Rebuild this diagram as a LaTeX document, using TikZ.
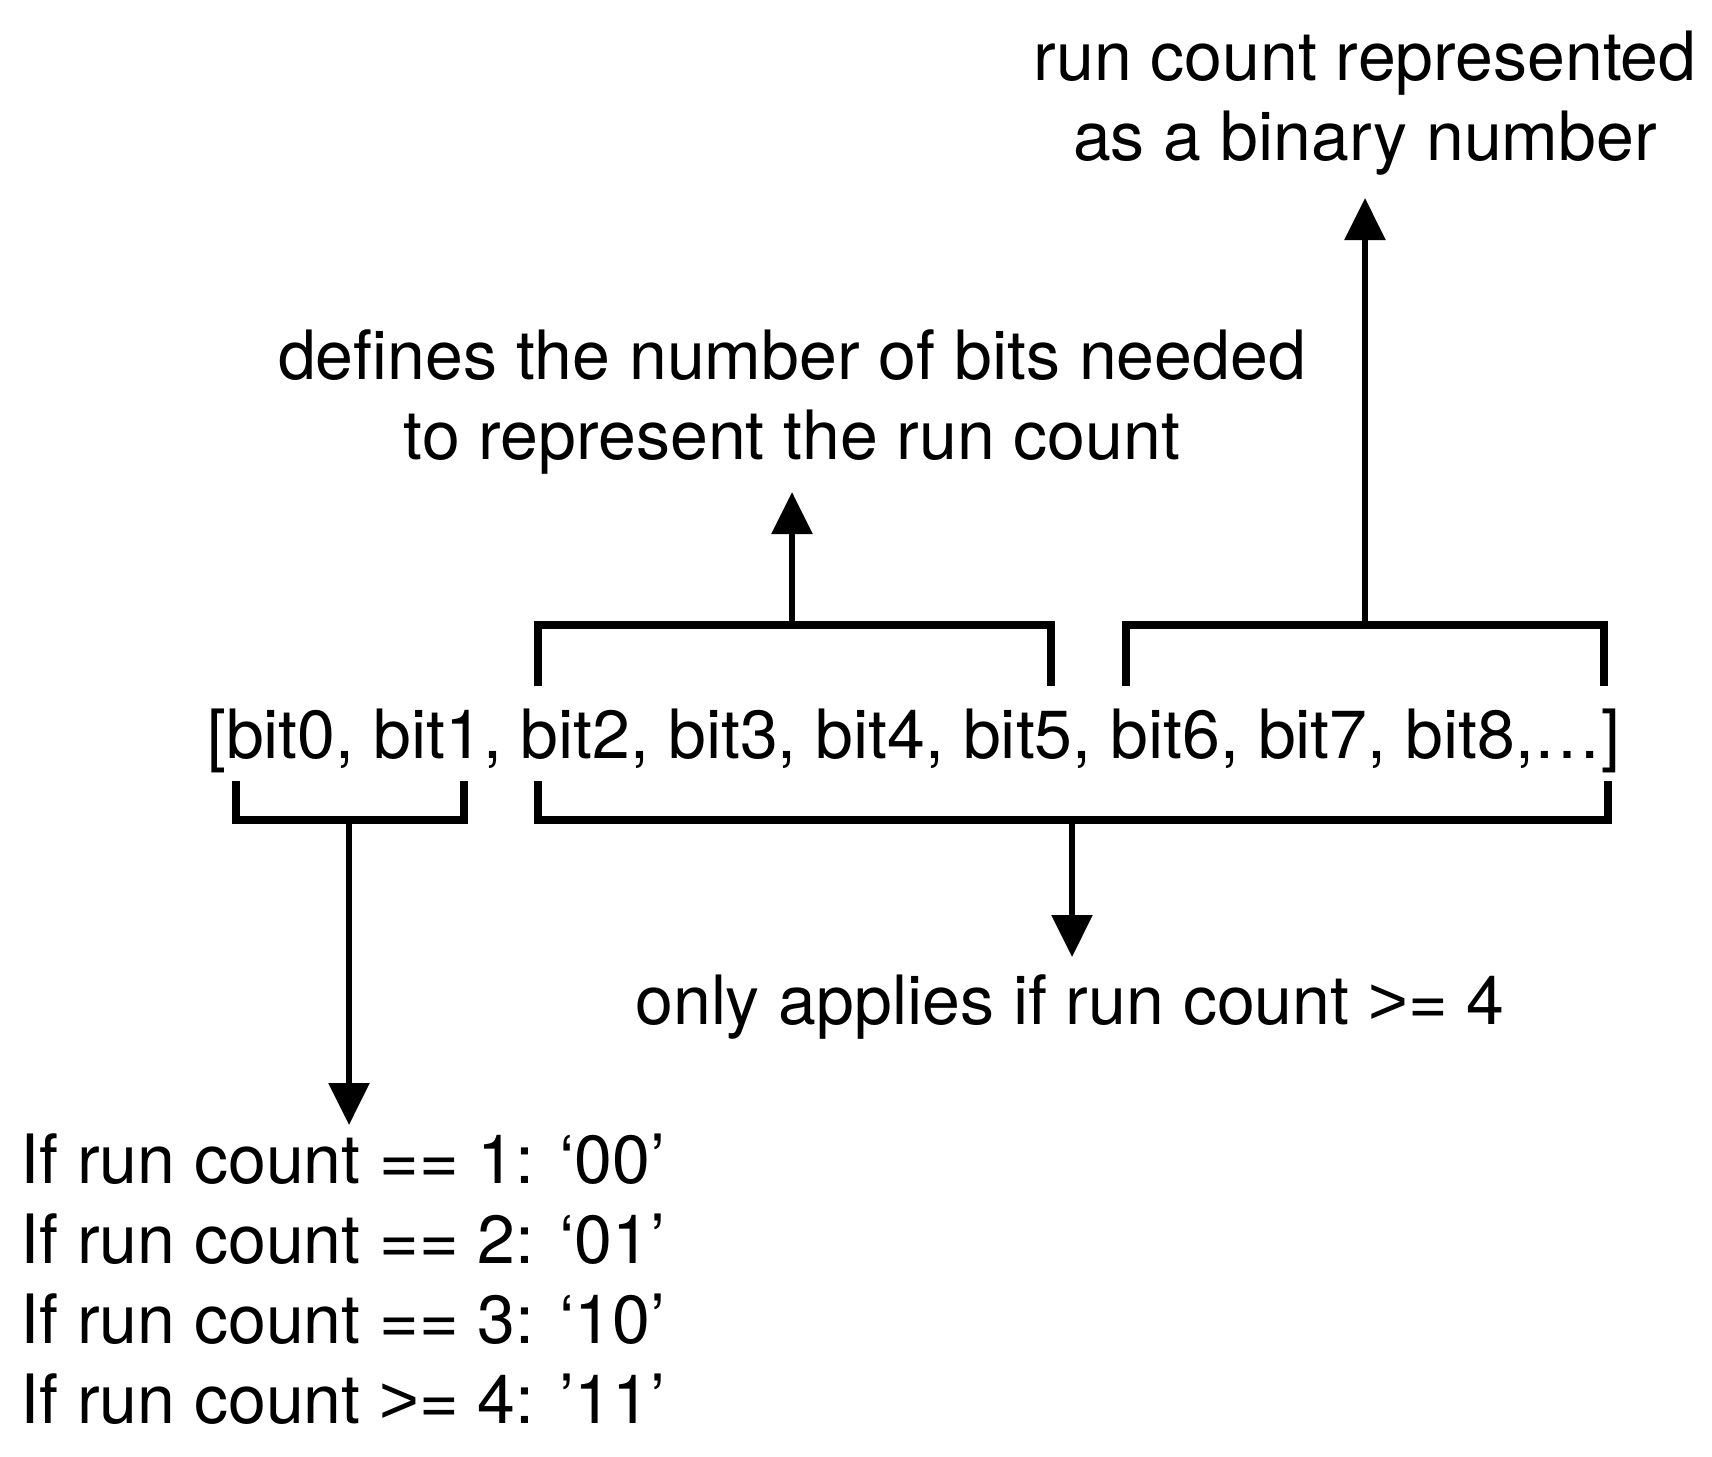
\documentclass[tikz,border=0pt]{standalone}
\usepackage{fontspec}
\setmainfont{TeX Gyre Heros}
\newfontfamily\gtfont{Liberation Sans}
\newcommand{\gtsign}{{\gtfont >}}
\usetikzlibrary{arrows.meta}

\begin{document}
\begin{tikzpicture}[x=0.5pt, y=-0.5pt,
      txt/.style={font=\fontsize{34}{40}\selectfont, inner sep=0pt},
      brace/.style={line width=4pt},
      arr/.style={line width=3pt, -{Triangle[width=20pt,length=21pt]}}]
    \useasboundingbox (0,0) rectangle (1712,1456);
    % the bit list
    \node[txt] (bits) at (914,741) {[bit0, bit1, bit2, bit3, bit4, bit5, bit6, bit7, bit8,…]};
    % labels
    \node[txt, align=center] (defs) at (792,402) {defines the number of bits needed\\to represent the run count};
    \node[txt, align=center] (bin) at (1365,103) {run count represented\\as a binary number};
    \node[txt] (only) at (1070,1007) {only applies if run count \gtsign= 4};
    \node[txt, align=left, anchor=west] (cases) at (20,1279) {If run count == 1: ‘00’\\If run count == 2: ‘01’\\If run count == 3: ‘10’\\If run count \gtsign= 4: ’11’};
    % brackets
    \draw[brace] (538,686) -- (538,625) -- (1051,625) -- (1051,686);
    \draw[brace] (1126,686) -- (1126,625) -- (1604,625) -- (1604,686);
    \draw[brace] (236,781) -- (236,820) -- (464,820) -- (464,781);
    \draw[brace] (538,781) -- (538,820) -- (1608,820) -- (1608,781);
    \coordinate (topa) at (792,625);
    \coordinate (topb) at (1365,625);
    \coordinate (bota) at (349,820);
    \coordinate (botb) at (1072,820);
    % arrow tips
    \coordinate (defs-in) at (792,492);
    \coordinate (bin-in) at (1365,198);
    \coordinate (only-in) at (1072,957);
    \coordinate (cases-in) at (349,1125);
    \draw[arr] (topa) -- (defs-in);
    \draw[arr] (topb) -- (bin-in);
    \draw[arr] (botb) -- (only-in);
    \draw[arr] (bota) -- (cases-in);
  \end{tikzpicture}
\end{document}
